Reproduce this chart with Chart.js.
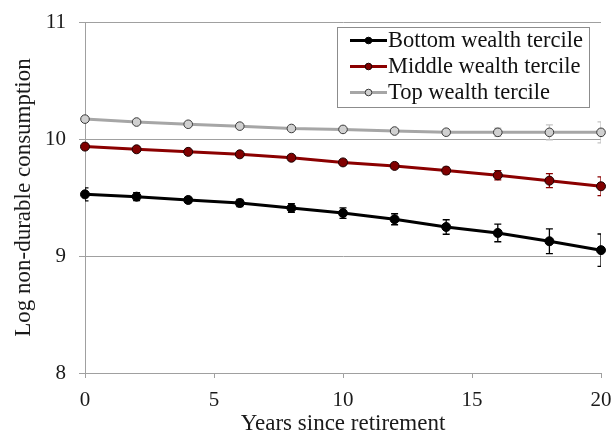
<!DOCTYPE html>
<html>
<head>
<meta charset="utf-8">
<script src="https://cdn.jsdelivr.net/npm/chart.js@4.4.1/dist/chart.umd.min.js"></script>
<style>
  html, body { margin: 0; padding: 0; background: #ffffff; }
  #wrap { width: 613px; height: 432px; }
</style>
</head>
<body>
<div id="wrap"><canvas id="c" width="613" height="432"></canvas></div>
<script>
// Years since retirement
const years = [0, 2, 4, 6, 8, 10, 12, 14, 16, 18, 20];

// Log non-durable consumption by wealth tercile
const bottomTercile = [9.527, 9.507, 9.479, 9.453, 9.410, 9.367, 9.314, 9.248, 9.197, 9.126, 9.050];
const middleTercile = [9.935, 9.912, 9.890, 9.869, 9.840, 9.800, 9.770, 9.730, 9.690, 9.644, 9.596];
const topTercile    = [10.170, 10.145, 10.126, 10.110, 10.090, 10.082, 10.068, 10.058, 10.057, 10.057, 10.057];

// Half-width of the confidence interval at each point
const bottomErr = [0.055, 0.034, 0.022, 0.030, 0.037, 0.045, 0.047, 0.062, 0.075, 0.105, 0.138];
const middleErr = [0.020, 0.015, 0.015, 0.015, 0.018, 0.020, 0.022, 0.028, 0.040, 0.060, 0.080];
const topErr    = [0.012, 0.010, 0.010, 0.010, 0.012, 0.014, 0.016, 0.022, 0.035, 0.064, 0.090];

const seriesLabels = ['Bottom wealth tercile', 'Middle wealth tercile', 'Top wealth tercile'];
const yTicks = [8, 9, 10, 11];
const xTicks = [0, 5, 10, 15, 20];

const FONT = "'Liberation Serif', 'Times New Roman', serif";

const toPoints = (vals) => years.map((x, i) => ({ x: x, y: vals[i] }));

// Error bars, drawn from each dataset's errors through the chart scales
const errorBars = {
  id: 'errorBars',
  beforeDatasetsDraw(chart) {
    const { ctx, chartArea, scales: { x, y } } = chart;
    ctx.save();
    ctx.beginPath();
    ctx.rect(chartArea.left, chartArea.top, chartArea.right - chartArea.left, chartArea.bottom - chartArea.top);
    ctx.clip();
    chart.data.datasets.forEach((ds) => {
      const errs = ds.errors;
      ctx.strokeStyle = ds.errorColor;
      ctx.lineWidth = 1.3;
      ds.data.forEach((p, i) => {
        const px = x.getPixelForValue(p.x);
        const y1 = y.getPixelForValue(p.y + errs[i]);
        const y2 = y.getPixelForValue(p.y - errs[i]);
        ctx.beginPath();
        ctx.moveTo(px, y1); ctx.lineTo(px, y2);
        ctx.moveTo(px - 3.5, y1); ctx.lineTo(px + 3.5, y1);
        ctx.moveTo(px - 3.5, y2); ctx.lineTo(px + 3.5, y2);
        ctx.stroke();
      });
    });
    ctx.restore();
  }
};

// Boxed legend in the upper right of the plot area
const boxedLegend = {
  id: 'boxedLegend',
  afterDraw(chart) {
    const { ctx, chartArea } = chart;
    const right = chartArea.right - 11;
    const left = right - 253;
    const top = chartArea.top + 5;
    const bottom = top + 81;
    ctx.save();
    ctx.fillStyle = '#ffffff';
    ctx.fillRect(left, top, right - left, bottom - top);
    ctx.strokeStyle = '#8c8c8c';
    ctx.lineWidth = 1;
    ctx.strokeRect(left + 0.5, top + 0.5, right - left - 1, bottom - top - 1);
    chart.data.datasets.forEach((ds, i) => {
      const cy = top + 13.5 + i * 26;
      const x0 = left + 13, x1 = left + 50;
      ctx.strokeStyle = ds.borderColor;
      ctx.lineWidth = 3;
      ctx.beginPath(); ctx.moveTo(x0, cy); ctx.lineTo(x1, cy); ctx.stroke();
      ctx.beginPath();
      ctx.arc((x0 + x1) / 2, cy, 3.3, 0, Math.PI * 2);
      ctx.fillStyle = ds.pointBackgroundColor;
      ctx.fill();
      ctx.lineWidth = 1;
      ctx.strokeStyle = ds.pointBorderColor;
      ctx.stroke();
      ctx.fillStyle = '#111111';
      ctx.font = '22.5px ' + FONT;
      ctx.textAlign = 'left';
      ctx.textBaseline = 'middle';
      ctx.fillText(ds.label, x1 + 1, cy + 1);
    });
    ctx.restore();
  }
};

const common = {
  borderWidth: 3,
  pointRadius: 4,
  pointBorderWidth: 1,
  tension: 0,
  clip: false
};

new Chart(document.getElementById('c'), {
  type: 'line',
  data: {
    datasets: [
      Object.assign({
        label: seriesLabels[0],
        data: toPoints(bottomTercile),
        errors: bottomErr,
        errorColor: '#000000',
        borderColor: '#000000',
        pointBackgroundColor: '#000000',
        pointBorderColor: '#000000'
      }, common, { pointRadius: 4.5 }),
      Object.assign({
        label: seriesLabels[1],
        data: toPoints(middleTercile),
        errors: middleErr,
        errorColor: '#8b0000',
        borderColor: '#8b0000',
        pointBackgroundColor: '#800000',
        pointBorderColor: '#1a0000'
      }, common, { pointRadius: 4.5 }),
      Object.assign({
        label: seriesLabels[2],
        data: toPoints(topTercile),
        errors: topErr,
        errorColor: '#c4c4c4',
        borderColor: '#a6a6a6',
        pointBackgroundColor: '#d0d0d0',
        pointBorderColor: '#3a3a3a'
      }, common, { pointRadius: 4.3 })
    ]
  },
  options: {
    responsive: false,
    animation: false,
    layout: { padding: { top: 22, right: 12, bottom: 0, left: 0 } },
    plugins: {
      legend: { display: false },
      tooltip: { enabled: false }
    },
    scales: {
      x: {
        type: 'linear',
        min: 0,
        max: 20,
        afterFit(scale) {
          scale.height = 59;
          scale.paddingLeft = 0;
          scale.paddingRight = 0;
        },
        afterBuildTicks(scale) { scale.ticks = xTicks.map(v => ({ value: v })); },
        grid: { drawOnChartArea: false, drawTicks: true, tickLength: 5, color: '#a0a0a0' },
        border: { color: '#a0a0a0', width: 1 },
        ticks: {
          color: '#1a1a1a',
          padding: 10,
          maxRotation: 0,
          font: { family: FONT, size: 21 }
        },
        title: {
          display: true,
          text: 'Years since retirement',
          color: '#1a1a1a',
          padding: { top: 0, bottom: 0 },
          font: { family: FONT, size: 23, lineHeight: '16px' }
        }
      },
      y: {
        min: 8,
        max: 11,
        afterFit(scale) {
          scale.width = 85;
          scale.paddingTop = 0;
          scale.paddingBottom = 0;
        },
        afterBuildTicks(scale) { scale.ticks = yTicks.map(v => ({ value: v })); },
        grid: { drawOnChartArea: true, drawTicks: true, tickLength: 6, color: '#a0a0a0' },
        border: { color: '#a0a0a0', width: 1 },
        ticks: {
          color: '#1a1a1a',
          padding: 13,
          font: { family: FONT, size: 21 }
        },
        title: {
          display: true,
          text: 'Log non-durable consumption',
          color: '#1a1a1a',
          padding: { top: 11, bottom: 0 },
          font: { family: FONT, size: 23, lineHeight: '26px' }
        }
      }
    }
  },
  plugins: [errorBars, boxedLegend]
});
</script>
</body>
</html>
